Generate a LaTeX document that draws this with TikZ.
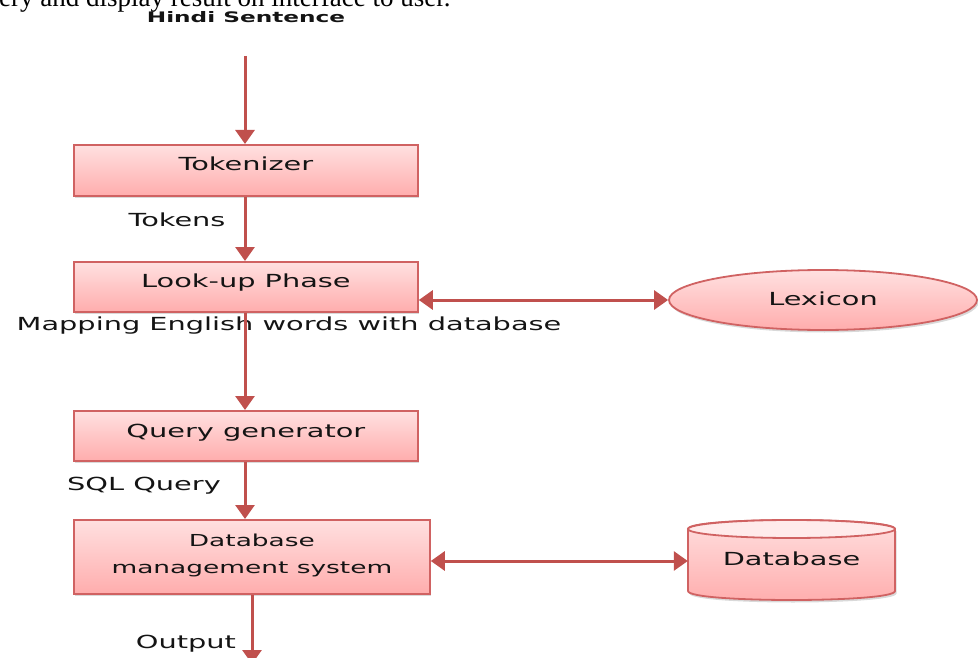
\documentclass[tikz,border=0pt]{standalone}
\usepackage{fontspec}
\setmainfont{DejaVu Sans}
\newfontfamily\docserif{Liberation Serif}
\usetikzlibrary{arrows.meta,shapes.geometric,shadows,calc}
\definecolor{lnred}{HTML}{C0504D}
\definecolor{boxtop}{HTML}{FFE0E0}
\definecolor{boxbot}{HTML}{FFADAD}
\definecolor{boxedge}{HTML}{D06262}
\definecolor{cyltop}{HTML}{FFEBEB}
\definecolor{txt}{HTML}{141414}
\newcommand{\sx}[1]{\scalebox{1.6}[1]{#1}}
\begin{document}
\begin{tikzpicture}[x=1pt,y=-1pt,
  shadowed/.style={drop shadow={opacity=0.3, shadow xshift=1.5pt, shadow yshift=-2.5pt}},
  pinkfill/.style={draw=boxedge, line width=1.8pt, top color=boxtop, bottom color=boxbot},
  procbox/.style={pinkfill, shadowed, minimum width=344pt, minimum height=51pt,
    anchor=north west, inner sep=0pt, font=\fontsize{18}{20}\selectfont, text=txt},
  flow/.style={draw=lnred, line width=3pt, -{Triangle[width=19pt,length=14pt]}},
  both/.style={draw=lnred, line width=3pt, {Triangle[width=19pt,length=14pt]}-{Triangle[width=19pt,length=14pt]}},
  lbl/.style={font=\fontsize{18}{20}\selectfont, text=txt, inner sep=0pt}]
\useasboundingbox (0,0) rectangle (978,658);
\clip (0,0) rectangle (978,658);

% cut-off line of the surrounding document
\node[anchor=base west, font=\docserif\fontsize{27}{29}\selectfont, inner sep=0pt] (doc) at (-1,6.5) {ery and display result on interface to user.};

\node[font=\bfseries\fontsize{14.5}{16}\selectfont, text=txt, inner sep=0pt] (hindi) at (246,17) {\sx{Hindi Sentence}};
\coordinate (hs) at (245,56);

\node[procbox] (tok) at (73,144) {\raisebox{14pt}{\sx{Tokenizer}}};
\node[procbox, minimum height=50pt] (look) at (73,261) {\raisebox{12pt}{\sx{Look-up Phase}}};
\node[procbox, minimum height=50pt] (qgen) at (73,410) {\raisebox{11pt}{\sx{Query generator}}};
\node[procbox, minimum width=356pt, minimum height=74pt, align=center,
      font=\fontsize{16.5}{27}\selectfont] (dbms) at (73,519) {\raisebox{6pt}{\sx{Database}}\\\raisebox{6pt}{\sx{management system}}};

\node[ellipse, pinkfill, shadowed, minimum width=308pt, minimum height=60pt, inner sep=0pt,
      font=\fontsize{18}{20}\selectfont, text=txt] (lex) at (823,300) {\raisebox{2pt}{\sx{Lexicon}}};

% database cylinder
\path[pinkfill, shadowed] (688,529) -- (688,591) .. controls (688,603) and (895,603) .. (895,591)
  -- (895,529) .. controls (895,517) and (688,517) .. (688,529) -- cycle;
\draw[boxedge, line width=1.8pt, fill=cyltop] (791.5,529) ellipse [x radius=103.5, y radius=9];
\node[minimum width=207pt, minimum height=78pt, inner sep=0pt, font=\fontsize{18}{20}\selectfont, text=txt] (db) at (791.5,561) {\raisebox{4pt}{\sx{Database}}};

% labels
\node[lbl] (tokens) at (177,220) {\sx{Tokens}};
\node[lbl] (map) at (289,326) {\sx{Mapping English words with database}};
\node[lbl] (sql) at (144,486) {\sx{SQL Query}};
\node[lbl] (outl) at (186,644) {\sx{Output}};

% connectors
\draw[flow] (hs) -- (tok.north -| hs);
\draw[flow] (tok.south -| hs) -- (look.north -| hs);
\draw[both] (look.east |- lex.west) -- (lex.west);
\draw[flow] (look.south -| hs) -- (qgen.north -| hs);
\draw[flow] (qgen.south -| hs) -- (dbms.north -| hs);
\draw[both] (dbms.east |- db.west) -- (db.west);
\coordinate (out) at (252,664);
\draw[flow] (dbms.south -| out) -- (out);
\end{tikzpicture}
\end{document}
